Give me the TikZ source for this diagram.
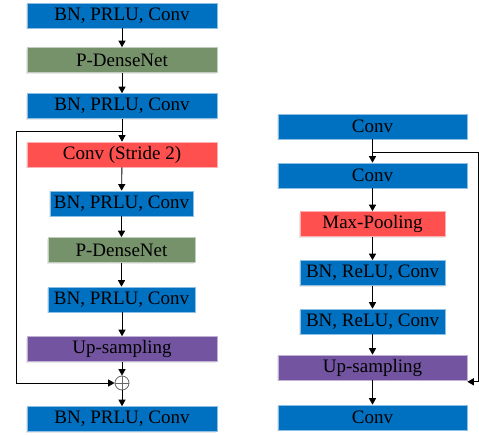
\documentclass[tikz,border=0pt]{standalone}
\usepackage{fontspec}
\setmainfont{Liberation Serif}
\usetikzlibrary{arrows.meta,shadows}
\definecolor{cblue}{HTML}{0070C0}
\definecolor{cgreen}{HTML}{76926A}
\definecolor{cred}{HTML}{FF5050}
\definecolor{cpurple}{HTML}{7354A0}
\tikzset{
  blk/.style={draw=white!55!#1, line width=0.6pt, fill=#1, inner sep=0pt,
    minimum height=25pt, text=black, font=\fontsize{19}{19}\selectfont,
    drop shadow={opacity=0.18, shadow xshift=-0.8pt, shadow yshift=-1.2pt}},
  wide/.style={minimum width=190pt},
  mid/.style={minimum width=147pt},
  flow/.style={line width=0.9pt, -{Triangle[width=7pt,length=6.5pt]}},
}
\begin{document}
\begin{tikzpicture}[x=1pt,y=-1pt]
\useasboundingbox (0,0) rectangle (479,434);

% encoder-decoder branch with global skip
\node[blk=cblue,  wide] (L1) at (122,15.5)  {BN, PRLU, Conv};
\node[blk=cgreen, wide] (L2) at (122,60)    {P-DenseNet};
\node[blk=cblue,  wide] (L3) at (122,106)   {BN, PRLU, Conv};
\node[blk=cred,   wide] (L4) at (122,154.5) {Conv (Stride 2)};
\node[blk=cblue,  minimum width=143pt] (L5) at (121.5,203.5) {BN, PRLU, Conv};
\node[blk=cgreen, mid]  (L6) at (121.5,250) {P-DenseNet};
\node[blk=cblue,  mid]  (L7) at (121.5,299.5) {BN, PRLU, Conv};
\node[blk=cpurple,wide] (L8) at (122,349)   {Up-sampling};
\node[circle, draw=gray!80!black, line width=0.8pt, minimum size=14pt, inner sep=0pt] (plus) at (122,383) {};
\draw[gray!80!black, line width=0.8pt] (plus.north) -- (plus.south) (plus.west) -- (plus.east);
\node[blk=cblue,  wide] (L9) at (122,419)   {BN, PRLU, Conv};

\draw[flow] (L1) -- (L2);
\draw[flow] (L2) -- (L3);
\draw[flow] (L3) -- (L4);
\draw[flow] (L4) -- (L5);
\draw[flow] (L5.south -| L6) -- (L6);
\draw[flow] (L6) -- (L7);
\draw[flow] (L7.south -| L8) -- (L8);
\draw[flow] (L8) -- (plus);
\draw[flow] (plus) -- (L9);
\coordinate (sL) at (122,131);
\coordinate (sLc) at (16,131);
\draw[flow] (sL) -- (sLc) |- (plus);

% U-shaped branch with long skip
\node[blk=cblue,  minimum width=189pt] (R1) at (372.5,126.5) {Conv};
\node[blk=cblue,  minimum width=189pt] (R2) at (372.5,175.5) {Conv};
\node[blk=cred,   minimum width=145pt] (R3) at (372.5,224)   {Max-Pooling};
\node[blk=cblue,  minimum width=145pt] (R4) at (372.5,273)   {BN, ReLU, Conv};
\node[blk=cblue,  minimum width=145pt] (R5) at (372.5,321.5) {BN, ReLU, Conv};
\node[blk=cpurple,minimum width=189pt] (R6) at (372.5,367.5) {Up-sampling};
\node[blk=cblue,  minimum width=189pt] (R7) at (372.5,417.5) {Conv};

\draw[flow] (R1) -- (R2);
\draw[flow] (R2) -- (R3);
\draw[flow] (R3) -- (R4);
\draw[flow] (R4) -- (R5);
\draw[flow] (R5) -- (R6);
\draw[flow] (R6) -- (R7);
\coordinate (sR) at (372.5,152);
\coordinate (sRc) at (478,152);
\coordinate (sRin) at ([yshift=-1.5pt]R6.south east);
\draw[flow] (sR) -- (sRc) |- (sRin);
\end{tikzpicture}
\end{document}
